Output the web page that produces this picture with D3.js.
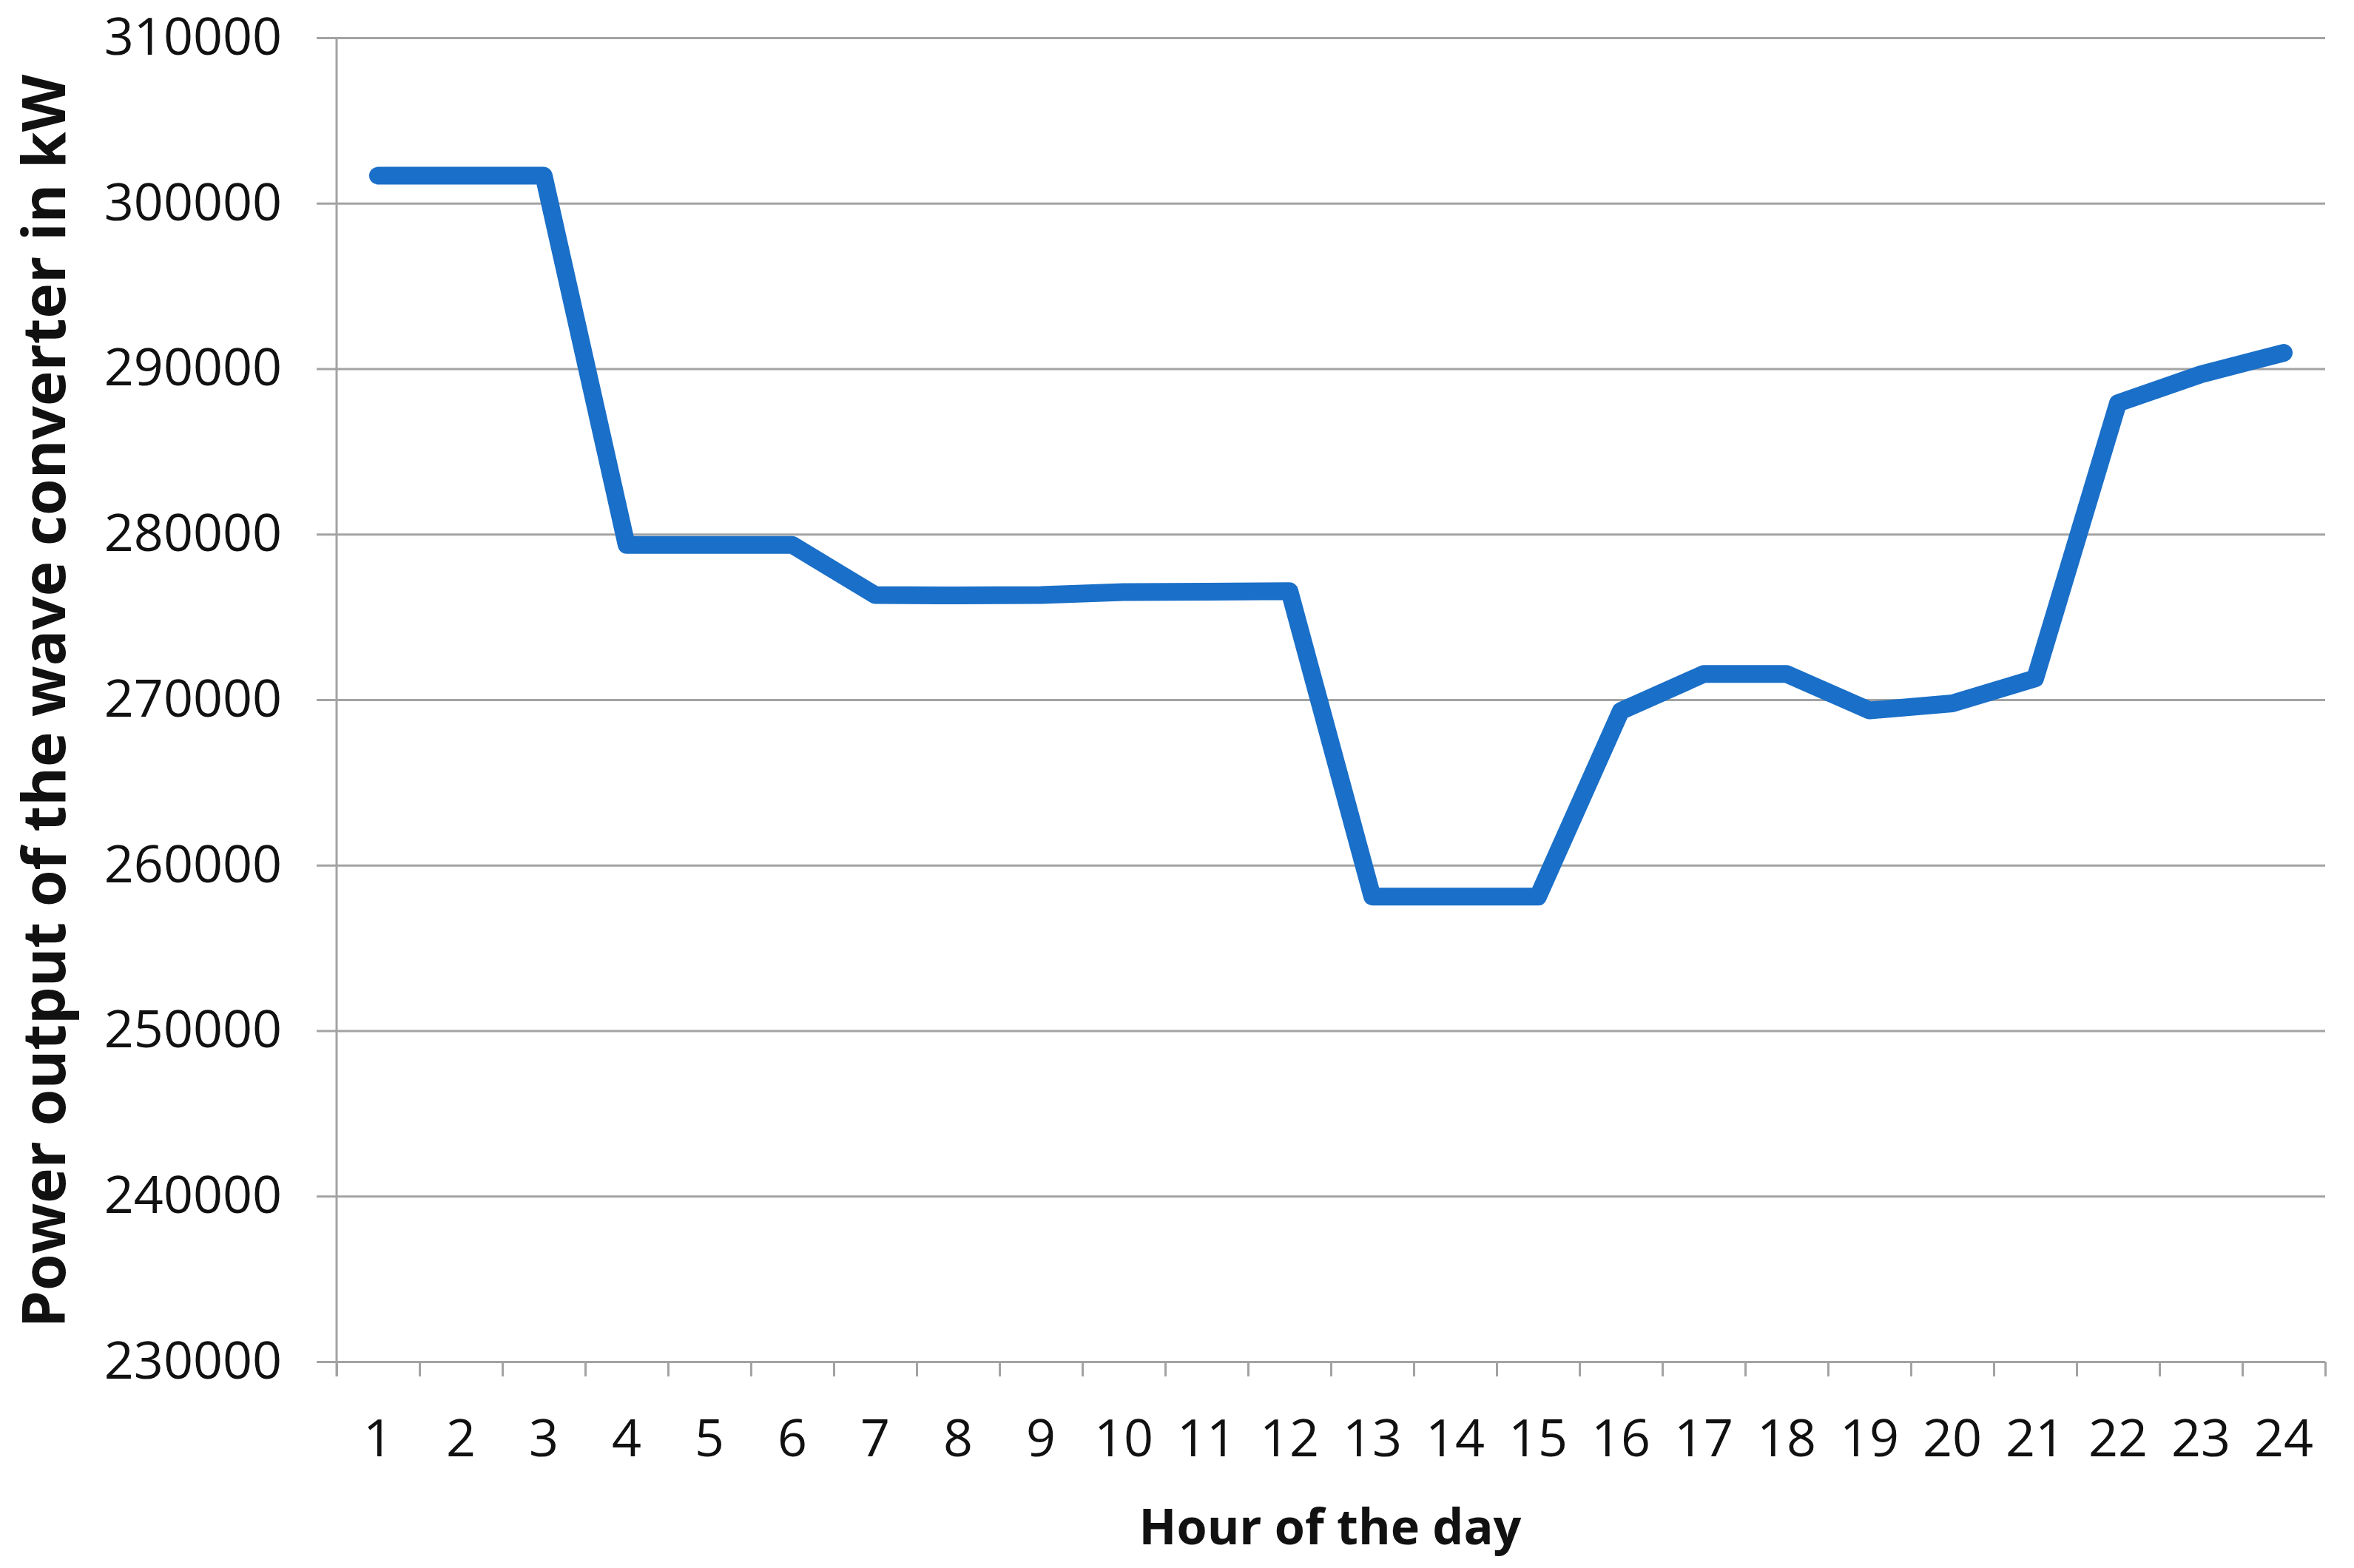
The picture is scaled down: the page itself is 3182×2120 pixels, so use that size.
<!DOCTYPE html>
<html>
<head>
<meta charset="utf-8">
<script src="https://cdn.jsdelivr.net/npm/d3@7"></script>
<style>
  body { margin: 0; background: #ffffff; }
  svg { display: block; }
</style>
</head>
<body>
<script>
// ---- Data ----
const hours = [1, 2, 3, 4, 5, 6, 7, 8, 9, 10, 11, 12, 13, 14, 15, 16, 17, 18, 19, 20, 21, 22, 23, 24];
const power = [301660, 301660, 301660, 279350, 279350, 279350, 276320, 276300, 276320, 276500, 276530, 276560,
               258100, 258100, 258100, 269320, 271550, 271550, 269350, 269780, 271280, 287920, 289660, 290960];
const yTickValues = [230000, 240000, 250000, 260000, 270000, 280000, 290000, 300000, 310000];
const xTitleText = "Hour of the day";
const yTitleText = "Power output of the wave converter in kW";

// ---- Layout ----
const W = 3182, H = 2120;
const margin = { left: 455, top: 51, right: 39, bottom: 279 };
const iW = W - margin.left - margin.right;
const iH = H - margin.top - margin.bottom;
const gridColor = "#a3a3a3";
const lineColor = "#1a6fc8";
const tickFont = "'Open Sans', 'Liberation Sans', sans-serif";

const svg = d3.select("body").append("svg")
  .attr("width", W).attr("height", H)
  .style("background", "#ffffff");

const g = svg.append("g").attr("transform", `translate(${margin.left},${margin.top})`);

const y = d3.scaleLinear().domain([230000, 310000]).range([iH, 0]);
const x = d3.scaleBand().domain(hours).range([0, iW]).padding(0);
const xb = d3.scaleLinear().domain([0, hours.length]).range([0, iW]);

// Y axis with gridlines
const yAxis = g.append("g")
  .call(d3.axisLeft(y).tickValues(yTickValues).tickSize(27).tickPadding(47).tickFormat(d3.format("d")));
yAxis.select(".domain").remove();
yAxis.selectAll(".tick line")
  .attr("x1", iW).attr("x2", -27)
  .attr("stroke", gridColor).attr("stroke-width", 3);
yAxis.selectAll(".tick text")
  .attr("fill", "#111")
  .style("font-family", tickFont)
  .style("font-size", "70px");

// Vertical axis line
g.append("line")
  .attr("x1", 0).attr("x2", 0)
  .attr("y1", 0).attr("y2", iH + 20)
  .attr("stroke", gridColor).attr("stroke-width", 3);

// X boundary tick marks
const xTicks = g.append("g").attr("transform", `translate(0,${iH})`)
  .call(d3.axisBottom(xb).tickValues(d3.range(hours.length + 1)).tickSize(20).tickFormat(""));
xTicks.select(".domain").remove();
xTicks.selectAll(".tick line").attr("stroke", gridColor).attr("stroke-width", 3);

// X labels
const xLabels = g.append("g").attr("transform", `translate(0,${iH})`)
  .call(d3.axisBottom(x).tickSize(0).tickPadding(78));
xLabels.select(".domain").remove();
xLabels.selectAll(".tick text")
  .attr("fill", "#111")
  .style("font-family", tickFont)
  .style("font-size", "70px");

// Data line
const line = d3.line()
  .x((d, i) => x(hours[i]) + x.bandwidth() / 2)
  .y(d => y(d));
g.append("path")
  .datum(power)
  .attr("d", line)
  .attr("fill", "none")
  .attr("stroke", lineColor)
  .attr("stroke-width", 24)
  .attr("stroke-linecap", "round")
  .attr("stroke-linejoin", "round");

// Titles (font size fitted to the reference text length)
function fitSize(sel, target) {
  sel.style("font-size", "100px");
  const len = sel.node().getComputedTextLength();
  sel.style("font-size", (100 * target / len) + "px");
}

const xTitle = svg.append("text")
  .attr("x", 1798)
  .attr("y", 2088)
  .attr("text-anchor", "middle")
  .attr("fill", "#111")
  .style("font-family", tickFont)
  .style("font-weight", "bold")
  .text(xTitleText);
fitSize(xTitle, 517);

const yTitle = svg.append("text")
  .attr("transform", `translate(88,${margin.top + iH / 2 + 2}) rotate(-90)`)
  .attr("text-anchor", "middle")
  .attr("fill", "#111")
  .style("font-family", tickFont)
  .style("font-weight", "bold")
  .text(yTitleText);
fitSize(yTitle, 1695);
</script>
</body>
</html>
